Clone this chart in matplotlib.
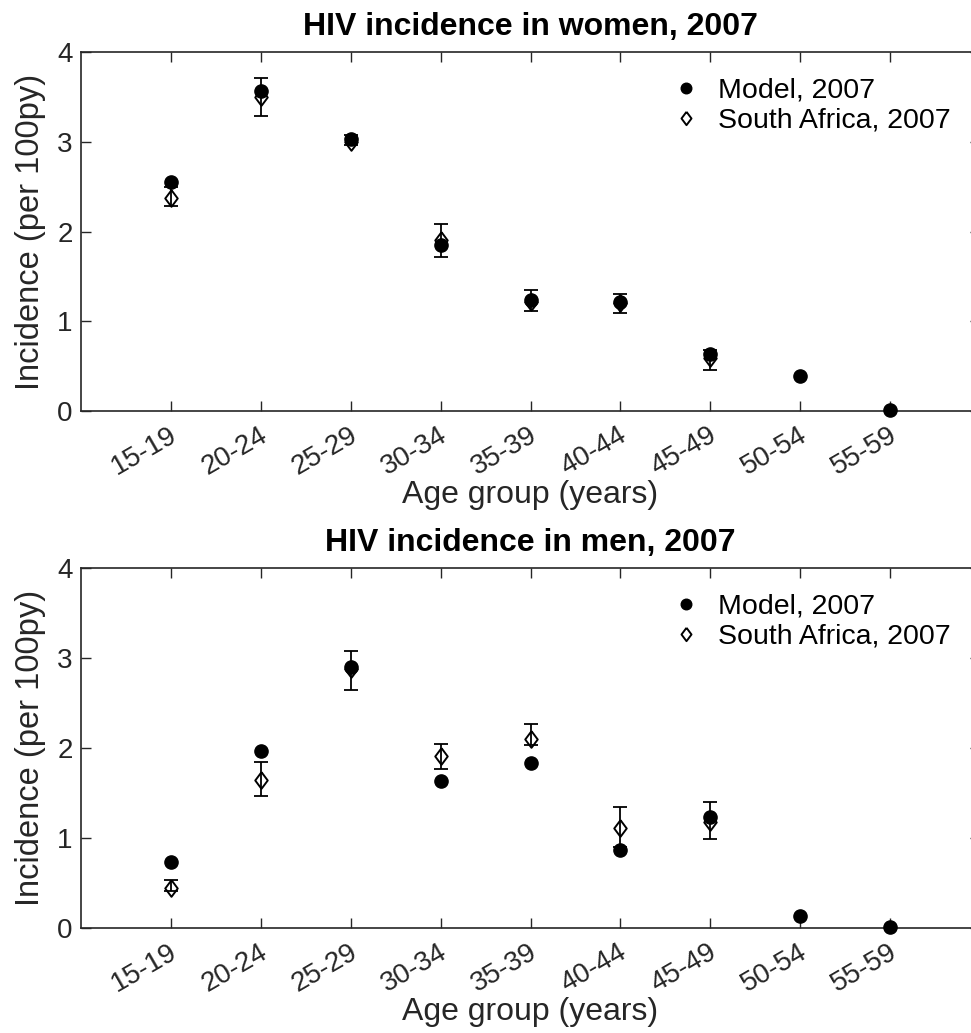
import matplotlib
matplotlib.use("Agg")
import matplotlib.pyplot as plt
import matplotlib.transforms as mtransforms
import numpy as np

plt.rcParams['font.family'] = ['Liberation Sans', 'DejaVu Sans']

age_groups = ['15-19', '20-24', '25-29', '30-34', '35-39',
              '40-44', '45-49', '50-54', '55-59']

# Model output, incidence per 100 person-years
women_model = [2.55, 3.57, 3.03, 1.85, 1.24, 1.22, 0.64, 0.39, 0.01]
men_model = [0.73, 1.97, 2.905, 1.63, 1.83, 0.87, 1.23, 0.13, 0.01]

# Survey estimates (ages 15-49) with confidence bounds
women_sa = [2.37, 3.50, 3.00, 1.90, 1.22, 1.20, 0.59]
women_sa_lo = [2.28, 3.29, 2.96, 1.72, 1.11, 1.09, 0.46]
women_sa_hi = [2.50, 3.71, 3.07, 2.08, 1.35, 1.30, 0.68]

men_sa = [0.45, 1.65, 2.88, 1.91, 2.10, 1.11, 1.18]
men_sa_lo = [0.41, 1.47, 2.65, 1.77, 2.03, 0.90, 0.99]
men_sa_hi = [0.53, 1.85, 3.08, 2.05, 2.27, 1.35, 1.40]

AXCOL = '#262626'
# diamond a little taller than wide
DIAMOND = [(0, 1), (0.75, 0), (0, -1), (-0.75, 0), (0, 1)]

W, H = 971, 1033
fig = plt.figure(figsize=(W / 100, H / 100), dpi=100)


def panel(rect, title, model, sa, lo, hi):
    ax = fig.add_axes(rect)
    x_all = np.arange(1, len(age_groups) + 1)
    x_sa = x_all[:len(sa)]
    sa = np.array(sa)
    yerr = np.vstack([sa - np.array(lo), np.array(hi) - sa])
    ax.errorbar(x_sa, sa, yerr=yerr, fmt='none', ecolor='black',
                elinewidth=1.3, capsize=5, capthick=1.3, zorder=2)
    h_dia, = ax.plot(x_sa, sa, linestyle='none', marker=DIAMOND,
                     mfc='none', mec='black', ms=12, mew=1.4, zorder=2)
    h_model, = ax.plot(x_all, model, 'o', color='black', ms=9.5,
                       linestyle='none', zorder=3, clip_on=False)
    ax.set_xlim(0, 10)
    ax.set_ylim(0, 4)
    ax.set_yticks([0, 1, 2, 3, 4])
    ax.set_xticks(x_all)
    ax.set_xticklabels(age_groups, rotation=30, ha='right')
    ax.tick_params(direction='in', length=7, width=1.0, labelsize=20,
                   top=True, right=True, pad=6, colors=AXCOL,
                   labelcolor=AXCOL)
    ax.tick_params(axis='x', pad=8)
    for sp in ax.spines.values():
        sp.set_linewidth(1.2)
        sp.set_color(AXCOL)
    ax.set_xlabel('Age group (years)', fontsize=23, labelpad=0, color=AXCOL)
    ax.set_ylabel('Incidence (per 100py)', fontsize=23.5, labelpad=8,
                  color=AXCOL)
    ax.set_title(title, fontsize=23, fontweight='bold', pad=12)
    ax.legend([h_model, h_dia], ['Model, 2007', 'South Africa, 2007'],
              loc='upper left', bbox_to_anchor=(0.629, 1.0), frameon=False,
              fontsize=20.5, handlelength=1.0, handletextpad=0.62,
              labelspacing=0.15, markerscale=0.8)
    offset = mtransforms.ScaledTranslation(8 / 72, 0, fig.dpi_scale_trans)
    for lab in ax.xaxis.get_majorticklabels():
        lab.set_transform(lab.get_transform() + offset)
    return ax


left = 81 / W
width = 899 / W
panel([left, 1 - 411 / H, width, 359 / H], 'HIV incidence in women, 2007',
      women_model, women_sa, women_sa_lo, women_sa_hi)
panel([left, 1 - 928 / H, width, 360 / H], 'HIV incidence in men, 2007',
      men_model, men_sa, men_sa_lo, men_sa_hi)

fig.savefig('out.png', dpi=100)
